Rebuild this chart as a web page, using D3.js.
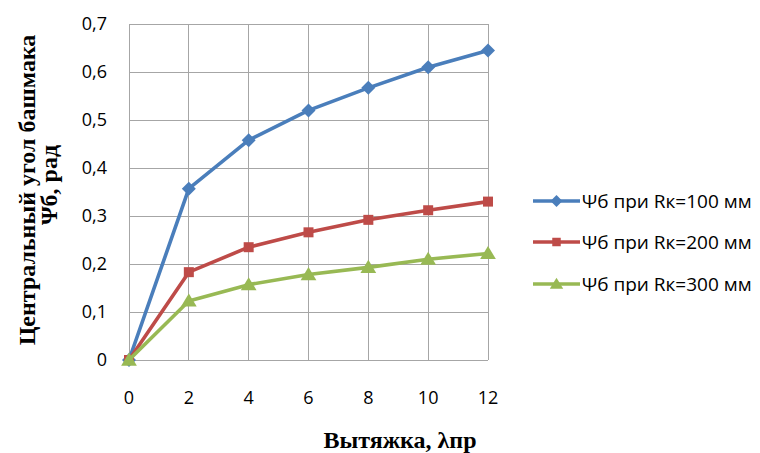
<!DOCTYPE html>
<html><head><meta charset="utf-8">
<script src="https://cdn.jsdelivr.net/npm/d3@7"></script>
<style>body{margin:0;background:#fff}svg{display:block}</style>
</head><body>
<script>
const xValues = [0, 2, 4, 6, 8, 10, 12];
const series100 = [0, 0.357, 0.458, 0.520, 0.567, 0.610, 0.645];
const series200 = [0, 0.183, 0.235, 0.266, 0.292, 0.312, 0.330];
const series300 = [0, 0.123, 0.157, 0.178, 0.193, 0.210, 0.222];
const yTicks = [0, 0.1, 0.2, 0.3, 0.4, 0.5, 0.6, 0.7];
const seriesNames = ["Ψб при Rк=100 мм", "Ψб при Rк=200 мм", "Ψб при Rк=300 мм"];
const colors = ["#4A7EBB", "#BE4B48", "#98B954"];

const W = 760, H = 453;
const svg = d3.select("body").append("svg").attr("width", W).attr("height", H);
const x = d3.scaleLinear().domain([0, 12]).range([129, 488]);
const y = d3.scaleLinear().domain([0, 0.7]).range([360, 24]);
const fmt = d => d === 0 ? "0" : d3.format(".1f")(d).replace(".", ",");

// marker shapes
const diamond = r => `M0,${-r}L${r},0L0,${r}L${-r},0Z`;
const square = r => `M${-r},${-r}H${r}V${r}H${-r}Z`;
const triangle = r => `M0,${-r}L${r * 1.05},${r * 0.75}L${-r * 1.05},${r * 0.75}Z`;
const shapes = [diamond, square, triangle];
const radii = [7, 5, 7.5];

// grid
svg.append("g").selectAll("line").data(yTicks).join("line")
  .attr("x1", x(0)).attr("x2", x(12)).attr("y1", d => y(d)).attr("y2", d => y(d))
  .attr("stroke", "#a6a6a6").attr("stroke-width", 1).attr("shape-rendering", "crispEdges");
svg.append("g").selectAll("line").data(xValues).join("line")
  .attr("y1", y(0)).attr("y2", y(0.7)).attr("x1", d => x(d)).attr("x2", d => x(d))
  .attr("stroke", "#a6a6a6").attr("stroke-width", 1).attr("shape-rendering", "crispEdges");

// axes labels
const tickFont = "'Open Sans', 'Noto Sans', sans-serif";
svg.append("g").selectAll("text").data(yTicks).join("text")
  .attr("x", 107).attr("y", d => y(d)).attr("dy", "0.35em").attr("text-anchor", "end")
  .attr("font-family", tickFont).attr("font-size", 18).attr("fill", "#000").text(fmt);
svg.append("g").selectAll("text").data(xValues).join("text")
  .attr("x", d => x(d)).attr("y", 398).attr("dy", "0.35em").attr("text-anchor", "middle")
  .attr("font-family", tickFont).attr("font-size", 18).attr("fill", "#000").text(d => d);

// titles
const serif = "'Liberation Serif', 'DejaVu Serif', serif";
const yt = svg.append("text").attr("transform", "translate(27,190) rotate(-90)")
  .attr("text-anchor", "middle").attr("font-family", serif).attr("font-weight", "bold")
  .attr("font-size", 24).attr("fill", "#000");
yt.append("tspan").attr("x", 0).attr("dy", "0.35em").text("Центральный угол башмака");
yt.append("tspan").attr("x", 0).attr("y", 0).attr("dx", 5).attr("dy", "1.25em").text("Ψб, рад");
svg.append("text").attr("x", 400).attr("y", 440).attr("dy", "0.35em").attr("text-anchor", "middle")
  .attr("font-family", serif).attr("font-weight", "bold").attr("font-size", 24).text("Вытяжка, λпр");

// series
const all = [series100, series200, series300];
const line = d3.line().x((d, i) => x(xValues[i])).y(d => y(d));
all.forEach((s, k) => {
  const g = svg.append("g");
  g.append("path").datum(s).attr("d", line).attr("fill", "none")
    .attr("stroke", colors[k]).attr("stroke-width", 3.6).attr("stroke-linejoin", "round");
  g.selectAll("path.m").data(s).join("path").attr("class", "m")
    .attr("transform", (d, i) => `translate(${x(xValues[i])},${y(d)})`)
    .attr("d", shapes[k](radii[k])).attr("fill", colors[k]);
});

// legend
const legY = [201, 242, 284];
seriesNames.forEach((n, k) => {
  const g = svg.append("g").attr("transform", `translate(0,${legY[k]})`);
  g.append("line").attr("x1", 533).attr("x2", 580).attr("stroke", colors[k]).attr("stroke-width", 3.6);
  g.append("path").attr("transform", "translate(556.5,0)")
    .attr("d", shapes[k](radii[k] * 0.85)).attr("fill", colors[k]);
  g.append("text").attr("x", 582).attr("dy", "0.35em").attr("font-family", tickFont)
    .attr("font-size", 19).attr("fill", "#000").text(n);
});
</script>
</body></html>
